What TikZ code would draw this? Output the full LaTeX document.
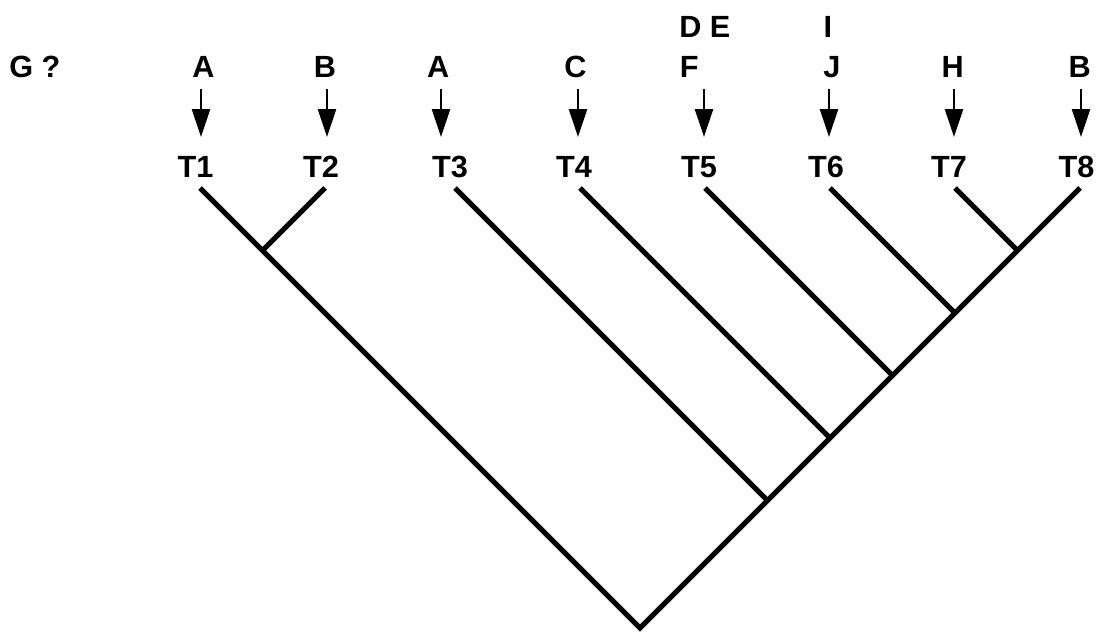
\documentclass[tikz,border=0pt]{standalone}
\usepackage{fontspec}
\setmainfont{Liberation Sans}
\usetikzlibrary{arrows.meta}
\begin{document}
\begin{tikzpicture}[x=0.75pt,y=-0.75pt,
  lbl/.style={font=\fontsize{23}{27}\selectfont\bfseries, inner sep=0pt, anchor=base},
  lblw/.style={lbl, anchor=base west},
  branch/.style={line width=3.8pt, line cap=butt, line join=miter},
  ptr/.style={line width=2pt, -{Triangle[length=21pt,width=13.5pt]}}]
\useasboundingbox (0,0) rectangle (1100,632);

% top labels
\node[lblw] (g) at (9,77) {G ?};
\node[lbl] (a1) at (203.5,77) {A};
\node[lbl] (b2) at (325,77) {B};
\node[lbl] (a3) at (438.3,77) {A};
\node[lbl] (c4) at (575.5,77) {C};
\node[lblw] (de5) at (679,37) {D E};
\node[lblw] (f5) at (679.5,77) {F};
\node[lbl] (i6) at (828,37) {I};
\node[lbl] (j6) at (832,77) {J};
\node[lbl] (h7) at (952.7,77) {H};
\node[lbl] (b8) at (1079.7,77) {B};

% taxon labels
\node[lbl] (t1) at (195.5,177) {T1};
\node[lbl] (t2) at (321,177) {T2};
\node[lbl] (t3) at (450,177) {T3};
\node[lbl] (t4) at (574,177) {T4};
\node[lbl] (t5) at (699,177) {T5};
\node[lbl] (t6) at (826,177) {T6};
\node[lbl] (t7) at (949,177) {T7};
\node[lbl] (t8) at (1076.5,177) {T8};

% arrows
\foreach \i/\x in {1/201,2/327,3/441,4/578,5/704,6/829,7/954,8/1081}{
  \coordinate (s\i) at (\x,89);
  \coordinate (e\i) at (\x,137);
  \draw[ptr] (s\i) -- (e\i);
}

% tree
\coordinate (l1) at (200,188);
\coordinate (l2) at (325,188);
\coordinate (l3) at (455,188);
\coordinate (l4) at (580,188);
\coordinate (l5) at (705,188);
\coordinate (l6) at (830,188);
\coordinate (l7) at (955,188);
\coordinate (l8) at (1080,188);
\coordinate (j12) at (262.5,250.5);
\coordinate (j78) at (1017.5,250.5);
\coordinate (jn6) at (955,313);
\coordinate (jn5) at (892.5,375.5);
\coordinate (jn4) at (830,438);
\coordinate (jn3) at (767.5,500.5);
\coordinate (root) at (640,628);

\draw[branch] (l1) -- (root) -- (l8);
\draw[branch] (l2) -- (j12);
\draw[branch] (l3) -- (jn3);
\draw[branch] (l4) -- (jn4);
\draw[branch] (l5) -- (jn5);
\draw[branch] (l6) -- (jn6);
\draw[branch] (l7) -- (j78);
\end{tikzpicture}
\end{document}
